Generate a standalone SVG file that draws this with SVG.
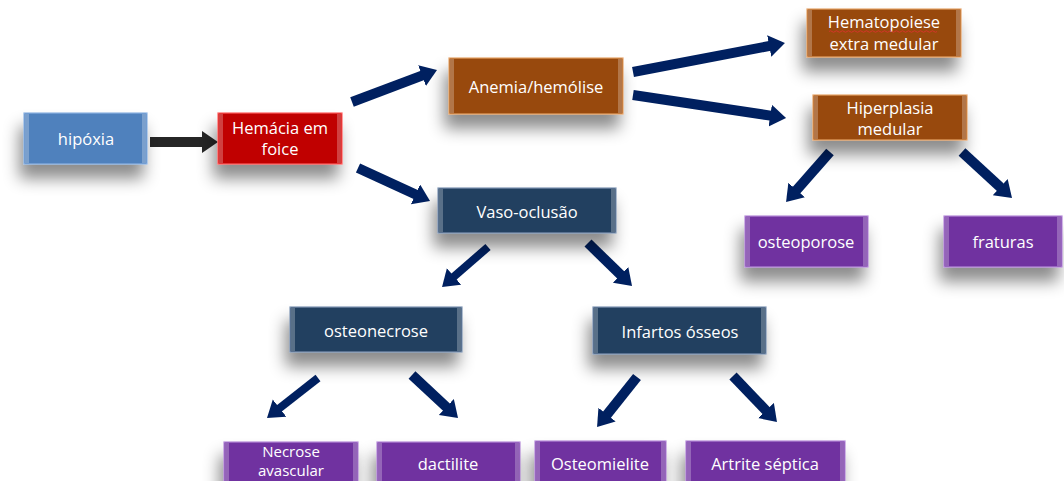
<svg xmlns="http://www.w3.org/2000/svg" width="1064" height="481" viewBox="0 0 1064 481">
<style>
  .box { stroke-width: 1.2; filter: url(#sh); }
  .blue { fill: #4F81BD; stroke: #8DB3E2; }
  .red { fill: #C00000; stroke: #FF6060; }
  .brown { fill: #984807; stroke: #E5A46A; }
  .navy { fill: #243F60; stroke: #7F95B3; }
  .purple { fill: #7030A0; stroke: #B58AD8; }
  .bev { fill: #FFFFFF; opacity: 0.25; }
  .t { font-family: "Open Sans", "Liberation Sans", sans-serif; font-size: 16.5px; fill: #FFFFFF; text-anchor: middle; }
  .arr { stroke: #002060; stroke-width: 10; fill: none; stroke-linecap: butt; marker-end: url(#ah); }
  .arr2 { stroke: #262626; stroke-width: 10; fill: none; stroke-linecap: butt; marker-end: url(#ah2); }
</style>
<defs>
  <filter id="sh" x="-40%" y="-50%" width="180%" height="230%">
    <feDropShadow dx="-4" dy="14" stdDeviation="8" flood-color="#000000" flood-opacity="0.45"/>
  </filter>
  <marker id="ah" markerUnits="userSpaceOnUse" markerWidth="18" markerHeight="24" refX="2" refY="11" orient="auto">
    <path d="M0,0 L16,11 L0,22 z" fill="#002060"/>
  </marker>
  <marker id="ah2" markerUnits="userSpaceOnUse" markerWidth="18" markerHeight="24" refX="2" refY="11" orient="auto">
    <path d="M0,0 L16,11 L0,22 z" fill="#262626"/>
  </marker>
</defs>
<rect x="0" y="0" width="1064" height="481" fill="#FFFFFF"/>

<g id="connectors">
  <line class="arr2" x1="150" y1="142" x2="204" y2="142"/>
  <line class="arr" x1="352" y1="102" x2="423.9" y2="74.9"/>
  <line class="arr" x1="358" y1="168" x2="417.3" y2="195.2"/>
  <line class="arr" x1="633" y1="72" x2="771.2" y2="45.6"/>
  <line class="arr" x1="633" y1="95" x2="772.2" y2="115.9"/>
  <line class="arr" x1="830" y1="152" x2="795.3" y2="191.5"/>
  <line class="arr" x1="962" y1="152" x2="1001.7" y2="188.5"/>
  <line class="arr" x1="488" y1="247" x2="452.6" y2="277.8" style="stroke-width:8"/>
  <line class="arr" x1="588" y1="243" x2="622" y2="276.2"/>
  <line class="arr" x1="318" y1="378" x2="278" y2="409.4" style="stroke-width:8"/>
  <line class="arr" x1="412" y1="375" x2="447.8" y2="408.4"/>
  <line class="arr" x1="637" y1="377" x2="605.8" y2="416.1"/>
  <line class="arr" x1="733" y1="376" x2="767.3" y2="411.9"/>
</g>

<g id="hipoxia">
  <rect class="box blue" x="24" y="113" width="123" height="51"/>
  <rect class="bev" x="25" y="114" width="4" height="49"/><rect class="bev" x="142" y="114" width="4" height="49"/>
  <text class="t" x="86" y="145">hipóxia</text>
</g>
<g id="hemacia">
  <rect class="box red" x="218" y="113" width="124" height="51"/>
  <rect class="bev" x="219" y="114" width="4" height="49"/><rect class="bev" x="337" y="114" width="4" height="49"/>
  <text class="t" x="280" y="134">Hemácia em</text>
  <text class="t" x="280" y="155">foice</text>
</g>
<g id="anemia">
  <rect class="box brown" x="449" y="58" width="174" height="56"/>
  <rect class="bev" x="450" y="59" width="4" height="54"/><rect class="bev" x="618" y="59" width="4" height="54"/>
  <text class="t" x="536" y="93">Anemia/hemólise</text>
</g>
<g id="hematopoiese">
  <rect class="box brown" x="807" y="9" width="154" height="48"/>
  <rect class="bev" x="808" y="10" width="4" height="46"/><rect class="bev" x="956" y="10" width="4" height="46"/>
  <text class="t" x="884" y="28">Hematopoiese</text>
  <path d="M829,31.5 q1.5,-1.5 3,0 t3,0 t3,0 t3,0 t3,0 t3,0 t3,0 t3,0 t3,0 t3,0 t3,0 t3,0 t3,0 t3,0 t3,0 t3,0 t3,0 t3,0 t3,0 t3,0 t3,0 t3,0 t3,0 t3,0 t3,0 t3,0 t3,0 t3,0 t3,0 t3,0 t3,0 t3,0 t3,0 t3,0 t3,0 t3,0" fill="none" stroke="#E03030" stroke-width="0.8"/>
  <text class="t" x="884" y="50">extra medular</text>
</g>
<g id="hiperplasia">
  <rect class="box brown" x="813" y="95" width="154" height="45"/>
  <rect class="bev" x="814" y="96" width="4" height="43"/><rect class="bev" x="962" y="96" width="4" height="43"/>
  <text class="t" x="890" y="114">Hiperplasia</text>
  <text class="t" x="890" y="135">medular</text>
</g>
<g id="vaso">
  <rect class="box navy" x="438" y="188" width="178" height="45"/>
  <rect class="bev" x="439" y="189" width="4" height="43"/><rect class="bev" x="611" y="189" width="4" height="43"/>
  <text class="t" x="527" y="218">Vaso-oclusão</text>
</g>
<g id="osteoporose">
  <rect class="box purple" x="745" y="216" width="123" height="51"/>
  <rect class="bev" x="746" y="217" width="4" height="49"/><rect class="bev" x="863" y="217" width="4" height="49"/>
  <text class="t" x="806" y="248">osteoporose</text>
</g>
<g id="fraturas">
  <rect class="box purple" x="944" y="216" width="118" height="51"/>
  <rect class="bev" x="945" y="217" width="4" height="49"/><rect class="bev" x="1057" y="217" width="4" height="49"/>
  <text class="t" x="1003" y="248">fraturas</text>
</g>
<g id="osteonecrose">
  <rect class="box navy" x="290" y="307" width="172" height="45"/>
  <rect class="bev" x="291" y="308" width="4" height="43"/><rect class="bev" x="457" y="308" width="4" height="43"/>
  <text class="t" x="376" y="337">osteonecrose</text>
</g>
<g id="infartos">
  <rect class="box navy" x="593" y="307" width="173" height="47"/>
  <rect class="bev" x="594" y="308" width="4" height="45"/><rect class="bev" x="761" y="308" width="4" height="45"/>
  <text class="t" x="680" y="338">Infartos ósseos</text>
</g>
<g id="necrose">
  <rect class="box purple" x="224" y="442" width="134" height="50"/>
  <rect class="bev" x="225" y="443" width="4" height="48"/><rect class="bev" x="353" y="443" width="4" height="48"/>
  <text class="t" style="font-size:15px"><tspan x="291" y="457">Necrose</tspan><tspan x="291" y="476">avascular</tspan></text>
</g>
<g id="dactilite">
  <rect class="box purple" x="377" y="442" width="143" height="50"/>
  <rect class="bev" x="378" y="443" width="4" height="48"/><rect class="bev" x="515" y="443" width="4" height="48"/>
  <text class="t" x="448" y="470">dactilite</text>
</g>
<g id="osteomielite">
  <rect class="box purple" x="535" y="441" width="131" height="50"/>
  <rect class="bev" x="536" y="442" width="4" height="48"/><rect class="bev" x="661" y="442" width="4" height="48"/>
  <text class="t" x="600" y="470">Osteomielite</text>
</g>
<g id="artrite">
  <rect class="box purple" x="686" y="441" width="159" height="50"/>
  <rect class="bev" x="687" y="442" width="4" height="48"/><rect class="bev" x="840" y="442" width="4" height="48"/>
  <text class="t" x="765" y="470">Artrite séptica</text>
</g>
</svg>
